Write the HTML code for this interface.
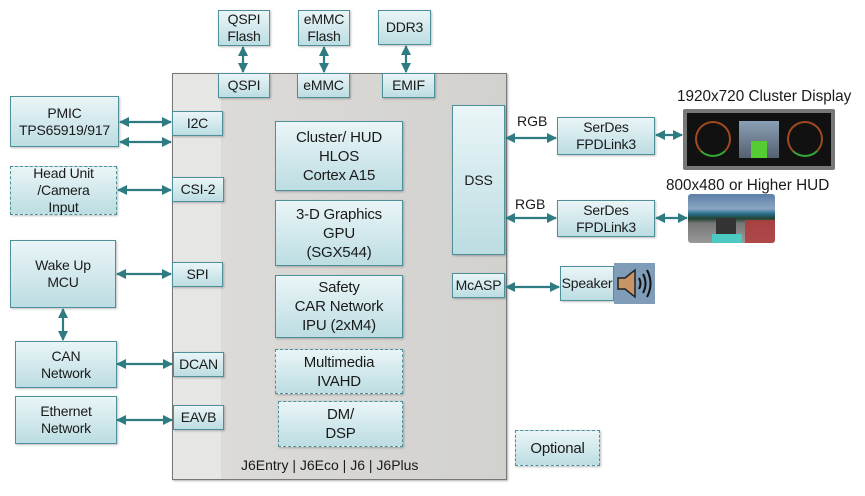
<!DOCTYPE html>
<html><head><meta charset="utf-8"><style>
body{margin:0;width:865px;height:496px;background:#fff;position:relative;overflow:hidden;font-family:"Liberation Sans",Arial,sans-serif;color:#1a1a1a}
.b{position:absolute;box-sizing:border-box;border:1.5px solid #4f8f99;background:linear-gradient(#eaf5f7,#bcdde2);display:flex;align-items:center;justify-content:center;text-align:center;font-size:14px;line-height:17px;box-shadow:1px 1px 2px rgba(0,0,0,.25);letter-spacing:-0.2px}
.d{border:1.5px dashed #4f8f99}
.l{position:absolute;font-size:14px;white-space:nowrap}
.c{font-size:15px;line-height:19px}
</style></head><body>
<div style="position:absolute;left:172px;top:73px;width:335px;height:407px;box-sizing:border-box;border:1.5px solid #777;background:linear-gradient(90deg,#e6e6e4 0,#e6e6e4 48px,#dcdbd8 48px,#d2d1ce 100%);box-shadow:1px 1px 2px rgba(0,0,0,.3)"></div>

<div class="b" style="left:218px;top:10px;width:52px;height:36px">QSPI<br>Flash</div>
<div class="b" style="left:298px;top:10px;width:52px;height:36px">eMMC<br>Flash</div>
<div class="b" style="left:378px;top:10px;width:53px;height:35px">DDR3</div>
<div class="b" style="left:218px;top:73px;width:52px;height:25px">QSPI</div>
<div class="b" style="left:297px;top:73px;width:53px;height:25px">eMMC</div>
<div class="b" style="left:382px;top:73px;width:53px;height:25px">EMIF</div>

<div class="b" style="left:10px;top:96px;width:109px;height:51px">PMIC<br>TPS65919/917</div>
<div class="b d" style="left:10px;top:166px;width:107px;height:49px">Head Unit<br>/Camera<br>Input</div>
<div class="b" style="left:10px;top:240px;width:106px;height:68px">Wake Up<br>MCU</div>
<div class="b" style="left:15px;top:341px;width:102px;height:47px">CAN<br>Network</div>
<div class="b" style="left:15px;top:396px;width:102px;height:48px">Ethernet<br>Network</div>

<div class="b" style="left:172px;top:111px;width:51px;height:25px">I2C</div>
<div class="b" style="left:172px;top:177px;width:52px;height:25px">CSI-2</div>
<div class="b" style="left:172px;top:262px;width:51px;height:25px">SPI</div>
<div class="b" style="left:173px;top:352px;width:51px;height:25px">DCAN</div>
<div class="b" style="left:173px;top:405px;width:51px;height:25px">EAVB</div>

<div class="b c" style="left:275px;top:121px;width:128px;height:70px">Cluster/ HUD<br>HLOS<br>Cortex A15</div>
<div class="b c" style="left:275px;top:200px;width:128px;height:66px">3-D Graphics<br>GPU<br>(SGX544)</div>
<div class="b c" style="left:275px;top:275px;width:128px;height:63px">Safety<br>CAR Network<br>IPU (2xM4)</div>
<div class="b d c" style="left:275px;top:349px;width:128px;height:45px">Multimedia<br>IVAHD</div>
<div class="b d c" style="left:278px;top:401px;width:125px;height:46px">DM/<br>DSP</div>
<div class="l" style="left:241px;top:457px;font-size:14px">J6Entry | J6Eco | J6 | J6Plus</div>

<div class="b" style="left:452px;top:105px;width:53px;height:150px">DSS</div>
<div class="b" style="left:452px;top:273px;width:53px;height:25px">McASP</div>

<div class="l" style="left:517px;top:113px">RGB</div>
<div class="l" style="left:515px;top:196px">RGB</div>
<div class="b" style="left:557px;top:117px;width:98px;height:38px">SerDes<br>FPDLink3</div>
<div class="b" style="left:557px;top:200px;width:98px;height:37px">SerDes<br>FPDLink3</div>
<div class="b" style="left:560px;top:266px;width:54px;height:35px">Speaker</div>
<div style="position:absolute;left:614px;top:263px;width:41px;height:41px;background:#7f9cb8">
<svg width="41" height="41"><polygon points="4,15 11,15 21,7 21,34 11,26 4,26" fill="#c79565" stroke="#222" stroke-width="1.5"/><path d="M25 15 Q28 20.5 25 26 M29 11 Q34 20.5 29 30 M33 7 Q40 20.5 33 34" fill="none" stroke="#111" stroke-width="2"/></svg></div>
<div class="b d" style="left:515px;top:430px;width:85px;height:36px;font-size:15px">Optional</div>

<div class="l" style="left:677px;top:88px;font-size:15.3px">1920x720 Cluster Display</div>
<div style="position:absolute;left:683px;top:109px;width:152px;height:61px;background:#777;border-radius:2px">
<div style="position:absolute;left:4px;top:4px;width:144px;height:53px;background:#111">
<div style="position:absolute;left:8px;top:8px;width:36px;height:36px;border-radius:50%;border:2px solid #a04a20;border-bottom-color:#3a3;box-sizing:border-box"></div>
<div style="position:absolute;left:100px;top:8px;width:36px;height:36px;border-radius:50%;border:2px solid #a04a20;border-bottom-color:#3a3;box-sizing:border-box"></div>
<div style="position:absolute;left:52px;top:8px;width:40px;height:37px;background:linear-gradient(#8aa0b5,#556070)"><div style="position:absolute;left:12px;top:20px;width:16px;height:17px;background:#5c3"></div></div>
</div></div>
<div class="l" style="left:666px;top:177px;font-size:15.3px">800x480 or Higher HUD</div>
<div style="position:absolute;left:688px;top:194px;width:87px;height:49px;border-radius:3px;overflow:hidden;background:linear-gradient(#5c7ea8 0,#8aa6c2 30%,#2a6f8f 40%,#243 50%,#777 60%,#999 100%)">
<div style="position:absolute;right:0;top:26px;width:30px;height:23px;background:#b33a3a;opacity:.85"></div>
<div style="position:absolute;left:28px;top:24px;width:20px;height:16px;background:#333"></div>
<div style="position:absolute;left:24px;top:40px;width:30px;height:9px;background:#4cc9c0"></div>
</div>

<svg width="865" height="496" style="position:absolute;left:0;top:0">
<defs><marker id="a" markerWidth="10" markerHeight="10" refX="9" refY="5" orient="auto-start-reverse" markerUnits="userSpaceOnUse"><path d="M0,0 L10,5 L0,10 z" fill="#2e7b82"/></marker></defs>
<g stroke="#2e7b82" stroke-width="2.2" fill="none" marker-start="url(#a)" marker-end="url(#a)">
<line x1="243" y1="47" x2="243" y2="72"/>
<line x1="324" y1="47" x2="324" y2="72"/>
<line x1="406" y1="46" x2="406" y2="72"/>
<line x1="120" y1="122" x2="171" y2="122"/>
<line x1="120" y1="142" x2="171" y2="142"/>
<line x1="118" y1="190" x2="171" y2="190"/>
<line x1="117" y1="274" x2="171" y2="274"/>
<line x1="117" y1="364" x2="172" y2="364"/>
<line x1="117" y1="420" x2="172" y2="420"/>
<line x1="63" y1="309" x2="63" y2="340"/>
<line x1="506" y1="138" x2="556" y2="138"/>
<line x1="506" y1="218" x2="556" y2="218"/>
<line x1="506" y1="287" x2="559" y2="287"/>
<line x1="656" y1="135" x2="682" y2="135"/>
<line x1="656" y1="218" x2="687" y2="218"/>
</g></svg>
</body></html>
